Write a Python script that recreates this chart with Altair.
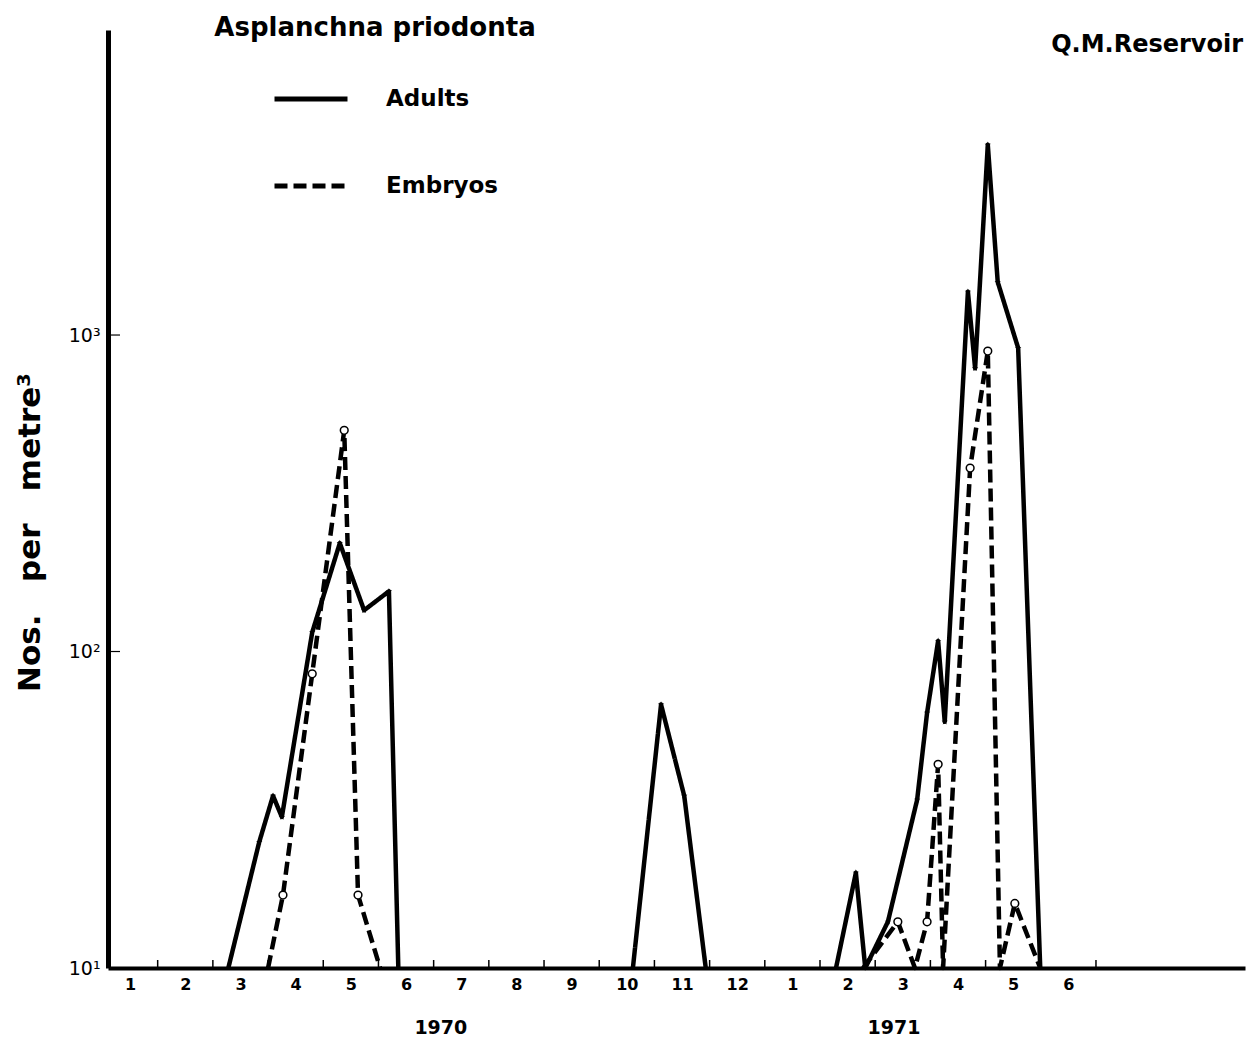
import altair as alt
import pandas as pd

# x = month position (1 = Jan 1970 ... 13 = Jan 1971 ... 18 = Jun 1971)
# y = Nos. per metre^3 (log scale, baseline 10)
adults_t_spring70 = [2.78, 3.34, 3.59, 3.75, 4.30, 4.80, 5.24, 5.69, 5.86]
adults_v_spring70 = [10, 25, 35, 30, 115, 220, 135, 155, 10]
adults_t_autumn70 = [10.11, 10.62, 11.04, 11.43]
adults_v_autumn70 = [10, 68, 35, 10]
adults_t_spring71 = [13.79, 14.15, 14.32, 14.73, 15.26, 15.44, 15.64, 15.76, 16.18, 16.31, 16.54, 16.72, 17.09, 17.49]
adults_v_spring71 = [10, 20, 10, 14, 34, 64, 108, 60, 1370, 785, 3990, 1470, 910, 10]

embryos_t_spring70 = [3.50, 3.77, 4.30, 4.88, 5.13, 5.53]
embryos_v_spring70 = [10, 17, 85, 500, 17, 10]
embryos_t_spring71 = [14.28, 14.91, 15.22, 15.44, 15.64, 15.73, 16.22, 16.54, 16.76, 17.03, 17.49]
embryos_v_spring71 = [10, 14, 10, 14, 44, 10, 380, 890, 10, 16, 10]

month_positions = list(range(1, 19))
month_boundaries = [m + 0.5 for m in range(1, 19)]
year_labels = ["1970", "1971"]
year_positions = [6.63, 14.84]
y_tick_values = [10, 100, 1000]
series_names = ["Adults", "Embryos"]

rows = []
def add(series, seg, ts, vs):
    for t, v in zip(ts, vs):
        rows.append({"series": series, "segment": seg, "t": t, "value": v})

add("Adults", "a1", adults_t_spring70, adults_v_spring70)
add("Adults", "a2", adults_t_autumn70, adults_v_autumn70)
add("Adults", "a3", adults_t_spring71, adults_v_spring71)
add("Embryos", "e1", embryos_t_spring70, embryos_v_spring70)
add("Embryos", "e2", embryos_t_spring71, embryos_v_spring71)
df = pd.DataFrame(rows)

FONT = "DejaVu Sans"
W, H = 1137, 938
NB = "\u00a0"

x_scale = alt.Scale(domain=[0.6, 21.2], nice=False, zero=False)
y_scale = alt.Scale(type="log", domain=[10, 9200], nice=False)

x_axis = alt.Axis(
    values=month_positions,
    labelExpr="'' + (((datum.value - 1) % 12) + 1)",
    ticks=False, grid=False, title=None,
    domainColor="black", domainWidth=4,
    labelFont=FONT, labelFontWeight="bold", labelFontSize=16, labelColor="black",
    labelPadding=8, labelFlush=False,
)
y_axis = alt.Axis(
    values=y_tick_values,
    labelExpr="datum.value == 10 ? '10¹' : (datum.value == 100 ? '10²' : '10³')",
    ticks=False, grid=False,
    title="Nos." + NB * 3 + "per" + NB * 3 + "metre³",
    titleFont=FONT, titleFontWeight="bold", titleFontSize=31, titleColor="black",
    titleX=-78, titleY=502, titleAngle=-90, titleAlign="center", titleBaseline="middle",
    domainColor="black", domainWidth=5,
    labelFont=FONT, labelFontSize=19, labelColor="black", labelPadding=8,
    labelFlush=False,
)

lines = alt.Chart(df).mark_line(color="black", strokeWidth=4.5, strokeJoin="round").encode(
    x=alt.X("t:Q", scale=x_scale, axis=x_axis),
    y=alt.Y("value:Q", scale=y_scale, axis=y_axis),
    strokeDash=alt.StrokeDash(
        "series:N",
        scale=alt.Scale(domain=series_names, range=[[1, 0], [13, 6]]),
        legend=alt.Legend(
            title=None, orient="none", legendX=164, legendY=30,
            symbolType="stroke", symbolSize=5329, symbolStrokeWidth=5,
            symbolStrokeColor="black",
            labelFont=FONT, labelFontWeight="bold", labelFontSize=23,
            labelColor="black", labelOffset=36, rowPadding=36, padding=0,
        ),
    ),
    detail="segment:N",
)

star = "M0,-1L0.2245,-0.309L0.951,-0.309L0.363,0.118L0.588,0.809L0,0.382L-0.588,0.809L-0.363,0.118L-0.951,-0.309L-0.2245,-0.309Z"

adult_pts = alt.Chart(df).transform_filter(
    "datum.series == 'Adults' && datum.value > 10.5"
).mark_point(shape=star, filled=True, color="black", size=45, opacity=1).encode(
    x=alt.X("t:Q", scale=x_scale), y=alt.Y("value:Q", scale=y_scale)
)
embryo_pts = alt.Chart(df).transform_filter(
    "datum.series == 'Embryos' && datum.value > 10.5"
).mark_point(shape="circle", filled=True, fill="white", stroke="black",
             strokeWidth=1.5, size=60, opacity=1).encode(
    x=alt.X("t:Q", scale=x_scale), y=alt.Y("value:Q", scale=y_scale)
)

xticks = alt.Chart(pd.DataFrame({"t": month_boundaries, "lo": [10] * 18, "hi": [10.6] * 18})).mark_rule(
    color="black", strokeWidth=1.5
).encode(
    x=alt.X("t:Q", scale=x_scale), y=alt.Y("lo:Q", scale=y_scale), y2="hi:Q"
)
yticks = alt.Chart(pd.DataFrame({"v": [100, 1000]})).mark_rule(color="black", strokeWidth=1.2).encode(
    y=alt.Y("v:Q", scale=y_scale), x=alt.value(0), x2=alt.value(12)
)

years = alt.Chart(pd.DataFrame({"t": year_positions, "label": year_labels})).mark_text(
    font=FONT, fontSize=19, fontWeight="bold", color="black", align="center", baseline="middle"
).encode(x=alt.X("t:Q", scale=x_scale), y=alt.value(998), text="label:N")

title_txt = alt.Chart(pd.DataFrame({"label": ["Asplanchna priodonta"]})).mark_text(
    font=FONT, fontSize=26, fontWeight="bold", color="black", align="center", baseline="middle"
).encode(x=alt.value(267), y=alt.value(-2), text="label:N")

site_txt = alt.Chart(pd.DataFrame({"label": ["Q.M.Reservoir"]})).mark_text(
    font=FONT, fontSize=24, fontWeight="bold", color="black", align="right", baseline="middle"
).encode(x=alt.value(1135), y=alt.value(15), text="label:N")

chart = alt.layer(
    xticks, yticks, lines, adult_pts, embryo_pts, years, title_txt, site_txt
).properties(
    width=W, height=H,
    padding={"left": 108, "top": 30, "right": 7, "bottom": 80},
    autosize=alt.AutoSizeParams(type="none"),
    background="white",
).configure_view(stroke=None)

chart.save("out.html", embed_options={"renderer": "svg", "actions": False})
